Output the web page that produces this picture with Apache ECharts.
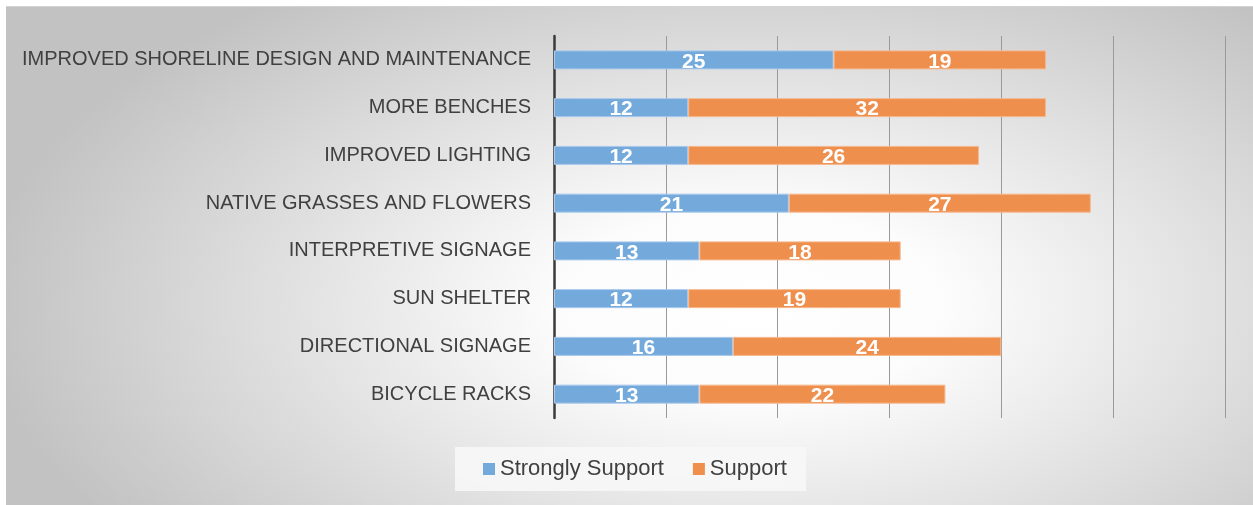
<!DOCTYPE html>
<html>
<head>
<meta charset="utf-8">
<script src="https://cdn.jsdelivr.net/npm/echarts@6/dist/echarts.min.js"></script>
<style>
  html, body { margin: 0; padding: 0; background: #fff; }
  #wrap { position: relative; width: 1253px; height: 505px; background: #fff; }
  /* Office-style radial backdrop behind the chart */
  #bg {
    position: absolute; left: 6px; top: 6px; width: 1247px; height: 499px;
    border-top: 1px solid #d2d2d2; box-sizing: border-box;
    background: radial-gradient(ellipse 62% 78% at 60% 60%, #ffffff 0%, #fcfcfc 25%, #c2c2c2 100%);
  }
  #main { position: absolute; left: 0; top: 0; width: 1253px; height: 505px; }
</style>
</head>
<body>
<div id="wrap">
  <div id="bg"></div>
  <div id="main"></div>
</div>
<script>
// amenities, top to bottom as in the picture
const categories = [
  'IMPROVED SHORELINE DESIGN AND MAINTENANCE',
  'MORE BENCHES',
  'IMPROVED LIGHTING',
  'NATIVE GRASSES AND FLOWERS',
  'INTERPRETIVE SIGNAGE',
  'SUN SHELTER',
  'DIRECTIONAL SIGNAGE',
  'BICYCLE RACKS'
]
const strongly = [25, 12, 12, 21, 13, 12, 16, 13]
const support = [19, 32, 26, 27, 18, 19, 24, 22]

const font = '"Liberation Sans", sans-serif'
const chart = echarts.init(document.getElementById('main'))

const labelStyle = {
  show: true,
  position: 'inside',
  color: '#fff',
  fontWeight: 'bold',
  fontSize: 21,
  fontFamily: font,
  offset: [0, 2]
}

chart.setOption({
  backgroundColor: 'transparent',
  animation: false,
  grid: { left: 554, right: 28, top: 36, bottom: 87 },
  legend: {
    data: ['Strongly Support', 'Support'],
    left: 455,
    top: 447,
    padding: [11, 19, 11, 28],
    backgroundColor: 'rgba(247,247,247,0.9)',
    itemWidth: 12,
    itemHeight: 12,
    itemGap: 29,
    icon: 'rect',
    itemStyle: { borderWidth: 0 },
    textStyle: { color: '#404040', fontSize: 22, fontFamily: font }
  },
  xAxis: {
    type: 'value',
    min: 0,
    max: 60,
    interval: 10,
    axisLabel: { show: false },
    axisLine: { show: false },
    axisTick: { show: false },
    splitLine: { lineStyle: { color: '#9a9a9a', width: 1 } }
  },
  yAxis: {
    type: 'category',
    inverse: true,
    data: categories,
    axisTick: { show: false },
    axisLine: { lineStyle: { color: '#3a3a3a', width: 2.5 } },
    axisLabel: { color: '#404040', fontSize: 20, fontFamily: font, margin: 23, padding: [4, 0, 0, 0] }
  },
  series: [
    {
      name: 'Strongly Support',
      type: 'bar',
      stack: 'total',
      barWidth: 19,
      data: strongly,
      itemStyle: { color: '#73a9db', borderColor: '#a9c9ec', borderWidth: 1 },
      label: labelStyle
    },
    {
      name: 'Support',
      type: 'bar',
      stack: 'total',
      barWidth: 19,
      data: support,
      itemStyle: { color: '#ef8f4e', borderColor: '#f5b88e', borderWidth: 1 },
      label: labelStyle
    }
  ]
})
</script>
</body>
</html>
